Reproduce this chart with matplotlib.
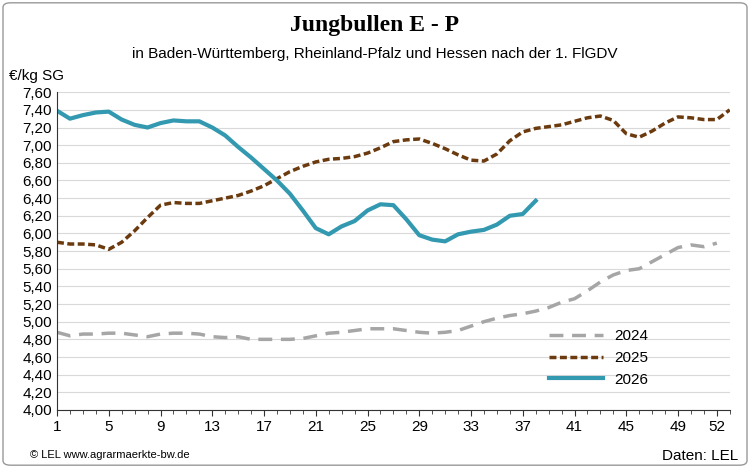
import numpy as np
import matplotlib.pyplot as plt
from matplotlib.patches import FancyBboxPatch

plt.rcParams["font.family"] = ["Liberation Sans", "DejaVu Sans"]

weeks_2024 = list(range(1, 53))
y2024 = [4.88, 4.84, 4.86, 4.86, 4.87, 4.87, 4.85, 4.83, 4.86, 4.87, 4.87, 4.86, 4.83,
         4.82, 4.83, 4.80, 4.80, 4.80, 4.80, 4.81, 4.84, 4.87, 4.88, 4.90, 4.92, 4.92,
         4.92, 4.90, 4.88, 4.87, 4.88, 4.90, 4.95, 5.00, 5.04, 5.07, 5.09, 5.12, 5.16,
         5.22, 5.26, 5.35, 5.45, 5.53, 5.58, 5.60, 5.68, 5.76, 5.84, 5.87, 5.85, 5.89]
weeks_2025 = list(range(1, 54))
y2025 = [5.90, 5.88, 5.88, 5.87, 5.82, 5.90, 6.03, 6.18, 6.32, 6.35, 6.34, 6.34, 6.37,
         6.40, 6.43, 6.48, 6.54, 6.62, 6.70, 6.76, 6.81, 6.84, 6.85, 6.87, 6.91, 6.97,
         7.04, 7.06, 7.07, 7.02, 6.96, 6.89, 6.83, 6.82, 6.90, 7.05, 7.15, 7.19, 7.21,
         7.23, 7.27, 7.31, 7.33, 7.28, 7.13, 7.09, 7.16, 7.25, 7.32, 7.31, 7.29, 7.29, 7.40]
weeks_2026 = list(range(1, 39))
y2026 = [7.39, 7.30, 7.34, 7.37, 7.38, 7.29, 7.23, 7.20, 7.25, 7.28, 7.27, 7.27, 7.20,
         7.11, 6.98, 6.86, 6.73, 6.60, 6.45, 6.26, 6.06, 5.99, 6.08, 6.14, 6.26, 6.33,
         6.32, 6.16, 5.98, 5.93, 5.91, 5.99, 6.02, 6.04, 6.10, 6.20, 6.22, 6.37]
x_ticks = list(range(1, 53, 4)) + [52]
y_ticks = np.arange(4.0, 7.61, 0.2)

fig = plt.figure(figsize=(7.5, 4.68), dpi=100)
fig.patches.append(FancyBboxPatch((0.004, 0.006), 0.992, 0.988, boxstyle="round,pad=0,rounding_size=0.01",
                                  transform=fig.transFigure, fill=False, ec="#999999", lw=1))
ax = fig.add_axes([0.076, 0.124, 0.897, 0.679])

ax.plot(weeks_2024, y2024, color="#a6a6a6", lw=2.5, ls=(0, (4, 2.5)), label="2024")
ax.plot(weeks_2025, y2025, color="#6b3a0f", lw=2.5, ls=(0, (2, 1)), label="2025")
ax.plot(weeks_2026, y2026, color="#3399b0", lw=3, label="2026")

ax.set_xlim(1, 53)
ax.set_ylim(4.0, 7.6)
ax.set_xticks(x_ticks)
ax.set_xticks(range(1, 54), minor=True)
ax.set_yticks(y_ticks)
ax.set_yticklabels([f"{v:.2f}".replace(".", ",") for v in y_ticks])
ax.tick_params(axis="both", labelsize=11, length=0)
ax.tick_params(axis="x", which="both", direction="out", length=4, color="#333333")
ax.tick_params(axis="x", which="minor", length=3)
ax.grid(axis="y", color="#d9d9d9", lw=0.8)
ax.set_axisbelow(True)
for s in ["top", "right"]:
    ax.spines[s].set_visible(False)
ax.spines["left"].set_color("#333333")
ax.spines["bottom"].set_color("#333333")

ax.legend(loc="lower right", bbox_to_anchor=(0.9, 0.03), frameon=False, fontsize=11,
          handlelength=3.5, labelspacing=0.5)

fig.text(0.5, 0.945, "Jungbullen E - P", ha="center", va="center", fontsize=17,
         fontweight="bold", family="Liberation Serif")
fig.text(0.5, 0.885, "in Baden-Württemberg, Rheinland-Pfalz und Hessen nach der 1. FlGDV",
         ha="center", va="center", fontsize=11)
fig.text(0.012, 0.838, "€/kg SG", ha="left", va="center", fontsize=11)
fig.text(0.04, 0.028, "© LEL www.agrarmaerkte-bw.de", ha="left", va="center", fontsize=8)
fig.text(0.985, 0.025, "Daten: LEL", ha="right", va="center", fontsize=11)

fig.savefig("out.png", dpi=100)
